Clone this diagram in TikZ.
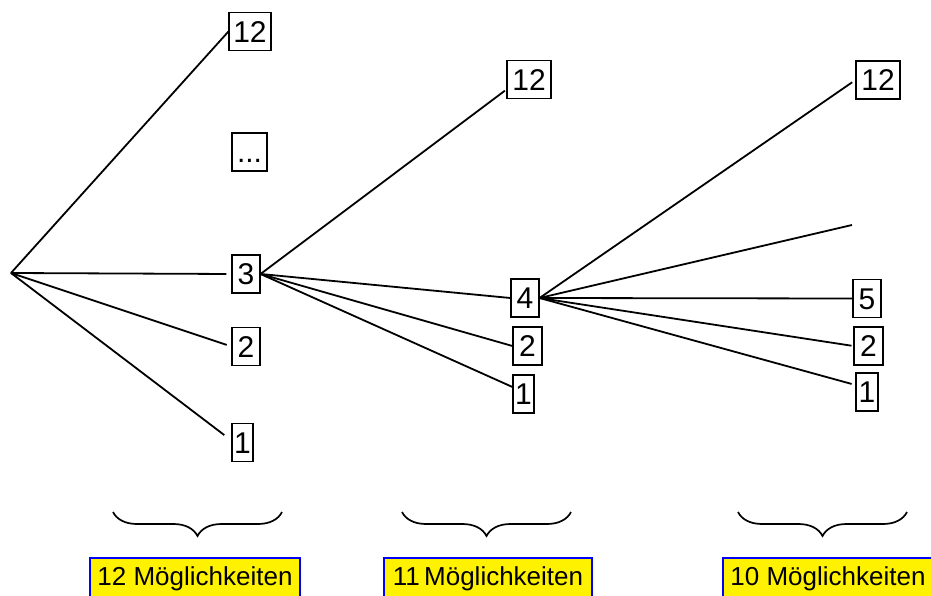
\documentclass[tikz,border=0pt]{standalone}
\usepackage{fontspec}
\setmainfont{Liberation Sans}
\usetikzlibrary{decorations.pathreplacing}
\begin{document}
\begin{tikzpicture}[x=1pt,y=-1pt,
  numbox/.style={draw, line width=1.1pt, inner sep=0pt, minimum height=38pt,
    text height=21.5pt, text depth=0pt, font=\fontsize{30}{36}\selectfont},
  branch/.style={line width=1.8pt},
  countbrace/.style={line width=1.7pt, decorate,
    decoration={brace, mirror, amplitude=24pt}},
  countlabel/.style={draw=blue, fill=yellow, line width=1.4pt, inner sep=0pt,
    minimum width=210pt, minimum height=41pt, text height=19pt, text depth=6pt,
    font=\fontsize{26}{31}\selectfont}]
  \useasboundingbox (0,0) rectangle (931,596);
  \clip (0,0) rectangle (931,596);

  % first draw: root and its outcomes
  \coordinate (root) at (11,273);
  \node[numbox, minimum width=42pt] (a12)  at (250,31.5) {12};
  \node[numbox, minimum width=35pt] (adots) at (249.5,152) {...};
  \node[numbox, minimum width=28pt] (a3)   at (246,274) {3};
  \node[numbox, minimum width=28pt] (a2)   at (246,346.5) {2};
  \node[numbox, minimum width=21pt] (a1)   at (242.5,442.5) {1};

  % second draw, after a 3
  \node[numbox, minimum width=44pt] (b12) at (529,79.5) {12};
  \node[numbox, minimum width=28pt] (b4)  at (525,298) {4};
  \node[numbox, minimum width=29pt] (b2)  at (527.5,346) {2};
  \node[numbox, minimum width=21pt] (b1)  at (523.5,394) {1};

  % third draw, after a 4
  \node[numbox, minimum width=44pt] (c12) at (878,80) {12};
  \coordinate (cmid) at (852,225);
  \node[numbox, minimum width=28pt] (c5)  at (867,298.5) {5};
  \node[numbox, minimum width=29pt] (c2)  at (868.5,346) {2};
  \node[numbox, minimum width=22pt] (c1)  at (867,392) {1};

  % branches
  \draw[branch] (root) -- (a12.west);
  \draw[branch, shorten >=5pt] (root) -- (a3.west);
  \draw[branch, shorten >=5pt] (root) -- (a2.west);
  \draw[branch, shorten >=9pt] (root) -- ([yshift=2pt]a1.west);

  \draw[branch, shorten >=2pt] (a3.east) -- ([yshift=-10pt]b12.west);
  \draw[branch] (a3.east) -- (b4.west);
  \draw[branch] (a3.east) -- (b2.west);
  \draw[branch] (a3.east) -- ([yshift=7pt]b1.west);

  \draw[branch, shorten >=4pt] (b4.east) -- (c12.west);
  \draw[branch] (b4.east) -- (cmid);
  \draw[branch] (b4.east) -- (c5.west);
  \draw[branch, shorten >=2pt] (b4.east) -- (c2.west);
  \draw[branch, shorten >=4pt] (b4.east) -- ([yshift=7pt]c1.west);

  % braces and counts
  \draw[countbrace] (113,512) -- (282,512);
  \draw[countbrace] (402,512) -- (571,512);
  \draw[countbrace] (738,512) -- (907,512);

  \node[countlabel] (n12) at (195,578.5) {12 Möglichkeiten};
  \node[countlabel, minimum width=208pt] (n11) at (488,578.5) {11\,Möglichkeiten};
  \node[countlabel] (n10) at (828,578.5) {10 Möglichkeiten};
\end{tikzpicture}
\end{document}
